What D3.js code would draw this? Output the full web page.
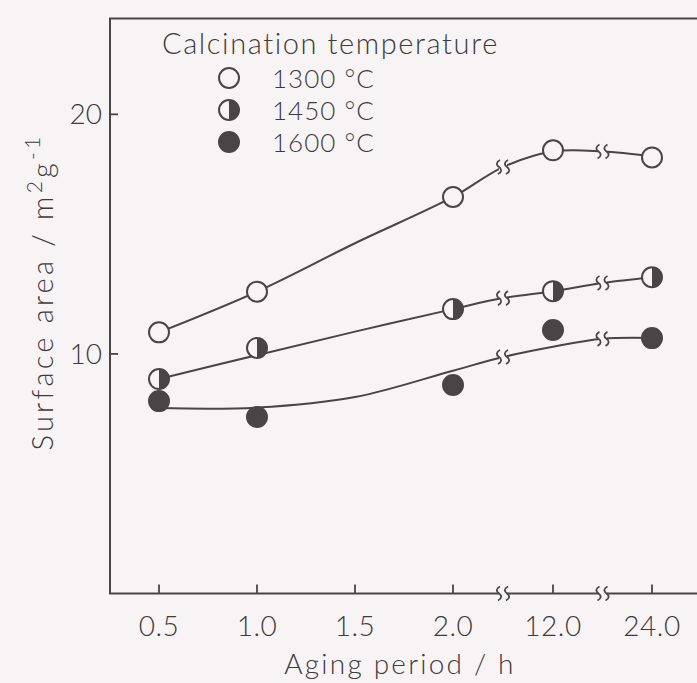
<!DOCTYPE html>
<html>
<head>
<meta charset="utf-8">
<script src="https://cdn.jsdelivr.net/npm/d3@7"></script>
<style>
  html, body { margin: 0; padding: 0; background: #f8f4f5; }
  svg { display: block; }
  text { font-family: Lato, "Open Sans", "DejaVu Sans", sans-serif; font-weight: 300; fill: #3f3a3c; }
</style>
</head>
<body>
<svg id="chart" width="697" height="683"></svg>
<script>
// Aging period (h) at which surface area was measured
const hours = [0.5, 1.0, 2.0, 12.0, 24.0];
// Axis ticks
const tickHours = [0.5, 1.0, 1.5, 2.0, 12.0, 24.0];
const tickLabels = ["0.5", "1.0", "1.5", "2.0", "12.0", "24.0"];
const yTicks = [10, 20];

// Measured surface area (m2/g) per calcination temperature
const area1300 = [10.9, 12.6, 16.55, 18.5, 18.2];
const area1450 = [8.95, 10.25, 11.87, 12.62, 13.2];
const area1600 = [8.03, 7.37, 8.7, 11.0, 10.66];

// Hand-drawn trend curves through the data
const fitHours = [0.5, 1.0, 1.5, 2.0, 7, 12, 18, 24];
const fit1300 = [10.9, 12.6, 14.62, 16.55, 17.8, 18.45, 18.45, 18.25];
const fit1450 = [8.95, 9.95, 10.93, 11.87, 12.33, 12.62, 12.96, 13.2];
const fit1600 = [7.74, 7.76, 8.2, 9.3, 9.87, 10.3, 10.63, 10.66];

// Axis break locations (in hours, between 2.0/12.0 and 12.0/24.0)
const breakHours = [7, 18];

const series = [
  { label: "1300", style: "open",  values: area1300, fit: fit1300 },
  { label: "1450", style: "half",  values: area1450, fit: fit1450 },
  { label: "1600", style: "solid", values: area1600, fit: fit1600 }
];

const ink = "#4a4446";
const paper = "#f8f4f5";
const svg = d3.select("#chart");

const plotLeft = 110, plotRight = 697, plotTop = 18.5, plotBottom = 593.5;

// Piecewise scale: linear from 0.5 to 2.0 h, then broken segments for 12 and 24 h
const x = d3.scaleLinear()
  .domain([0.5, 2.0, 12.0, 24.0])
  .range([159, 453, 553, 652]);
const y = d3.scaleLinear().domain([0, 24]).range([plotBottom, plotTop]);

// Frame: left axis, top and bottom lines
svg.append("path")
  .attr("d", `M${plotRight},${plotTop}H${plotLeft}V${plotBottom}H${plotRight}`)
  .attr("fill", "none").attr("stroke", ink).attr("stroke-width", 2);

// x ticks (inward)
svg.selectAll(".xtick").data(tickHours).join("line")
  .attr("x1", d => x(d)).attr("x2", d => x(d))
  .attr("y1", plotBottom).attr("y2", plotBottom - 9)
  .attr("stroke", ink).attr("stroke-width", 1.8);
svg.selectAll(".xlab").data(tickHours).join("text")
  .attr("x", d => x(d)).attr("y", plotBottom + 42)
  .attr("text-anchor", "middle").attr("font-size", 28)
  .attr("letter-spacing", 0.5)
  .text((d, i) => tickLabels[i]);

// y ticks (inward)
svg.selectAll(".ytick").data(yTicks).join("line")
  .attr("x1", plotLeft).attr("x2", plotLeft + 8)
  .attr("y1", d => y(d)).attr("y2", d => y(d))
  .attr("stroke", ink).attr("stroke-width", 1.8);
svg.selectAll(".ylab").data(yTicks).join("text")
  .attr("x", plotLeft - 8).attr("y", d => y(d) + 10)
  .attr("text-anchor", "end").attr("font-size", 28)
  .text(d => d);

// Axis titles
svg.append("text")
  .attr("x", 400).attr("y", 674)
  .attr("text-anchor", "middle").attr("font-size", 28)
  .attr("letter-spacing", 2.2)
  .text("Aging  period / h");

const yTitle = svg.append("text")
  .attr("transform", "translate(53,292) rotate(-90)")
  .attr("text-anchor", "middle").attr("font-size", 29)
  .attr("letter-spacing", 3.2);
yTitle.append("tspan").text("Surface  area / m");
yTitle.append("tspan").attr("dy", -11).attr("font-size", 21).text("2");
yTitle.append("tspan").attr("dy", 11).text("g");
yTitle.append("tspan").attr("dy", -13).attr("font-size", 21).text("-1");

// Break symbol: gap plus two wavy strokes
function squiggle(cx, cy) {
  return `M${cx + 1},${cy - 7} c-4,2 -4,5 -1,7 c3,2 3,5 -1,7`;
}
function drawBreak(g, cx, cy) {
  g.append("rect").attr("x", cx - 4).attr("y", cy - 3).attr("width", 8).attr("height", 6)
    .attr("fill", paper);
  g.append("path").attr("d", squiggle(cx - 4, cy)).attr("fill", "none")
    .attr("stroke", ink).attr("stroke-width", 1.8);
  g.append("path").attr("d", squiggle(cx + 4, cy)).attr("fill", "none")
    .attr("stroke", ink).attr("stroke-width", 1.8);
}

// Trend curves
const line = d3.line()
  .x((d, i) => x(fitHours[i]))
  .y(d => y(d))
  .curve(d3.curveCatmullRom.alpha(0.5));

series.forEach(s => {
  svg.append("path").attr("d", line(s.fit))
    .attr("fill", "none").attr("stroke", ink).attr("stroke-width", 2);
});

const breaks = svg.append("g");
breakHours.forEach(h => drawBreak(breaks, x(h), plotBottom));
series.forEach(s => {
  breakHours.forEach(h => {
    const i = fitHours.indexOf(h);
    drawBreak(breaks, x(h), y(s.fit[i]));
  });
});

// Marker drawing
const r = 10;
function marker(g, style, cx, cy) {
  const m = g.append("g").attr("transform", `translate(${cx},${cy})`);
  m.append("circle").attr("r", r)
    .attr("fill", style === "solid" ? ink : paper)
    .attr("stroke", ink).attr("stroke-width", 2);
  if (style === "half") {
    m.append("path")
      .attr("d", `M0,${-r}A${r},${r} 0 0 1 0,${r}Z`)
      .attr("fill", ink);
  }
}

const marks = svg.append("g");
series.forEach(s => {
  s.values.forEach((v, i) => marker(marks, s.style, x(hours[i]), y(v)));
});

// Legend
const legend = svg.append("g");
legend.append("text").attr("x", 162).attr("y", 54)
  .attr("font-size", 29).attr("letter-spacing", 1.6)
  .text("Calcination temperature");
const legendRows = [78, 110, 142];
series.forEach((s, i) => {
  marker(legend, s.style, 229, legendRows[i]);
  legend.append("text").attr("x", 272).attr("y", legendRows[i] + 10)
    .attr("font-size", 26).attr("letter-spacing", 1)
    .text(s.label + " °C");
});
</script>
</body>
</html>
